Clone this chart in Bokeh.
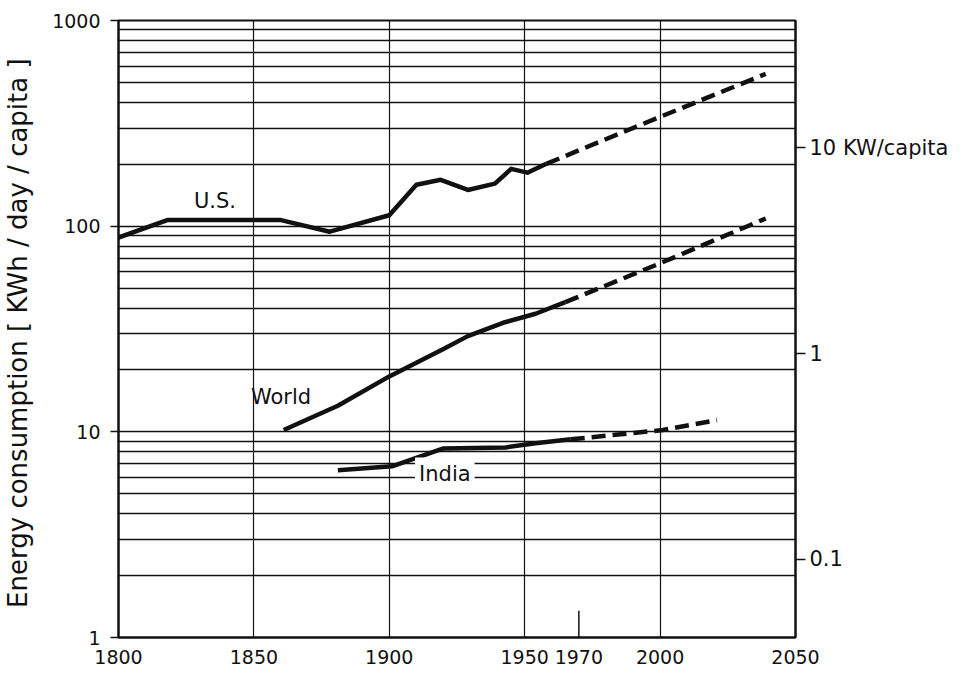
from bokeh.plotting import figure
from bokeh.models import (FixedTicker, LogAxis, Range1d, LogScale, Label)
from bokeh.embed import file_html
from bokeh.resources import INLINE

# ---- data ----
us_years = [1800, 1818, 1860, 1878, 1900, 1910, 1919, 1929, 1939, 1945, 1951, 1958]
us_vals = [88, 107, 107, 94, 113, 159, 168, 150, 161, 190, 182, 201]
us_proj_years = [1958, 2000, 2039]
us_proj_vals = [201, 340, 550]

world_years = [1861, 1881, 1900, 1920, 1929, 1942, 1954, 1965]
world_vals = [10.2, 13.4, 18.6, 25.3, 29.2, 33.9, 37.5, 42.7]
world_proj_years = [1965, 2000, 2039]
world_proj_vals = [42.7, 66, 109]

india_years = [1881, 1901, 1920, 1943, 1954, 1967]
india_vals = [6.5, 6.8, 8.3, 8.4, 8.8, 9.2]
india_proj_years = [1967, 2001, 2021]
india_proj_vals = [9.2, 10.2, 11.4]

x_ticks = [1800, 1850, 1900, 1950, 1970, 2000, 2050]
x_grid = [1850, 1900, 1950, 2000]
y_ticks = [1, 10, 100, 1000]
y_tick_labels = ["1", "10", "100", "1000"]
y_minor = [m * d for d in (1, 10, 100) for m in range(2, 10)]
kw_ticks = [0.1, 1, 10]
kw_tick_labels = ["0.1", "1", "10 KW/capita"]
kwh_per_kw_day = 24.0
marker_year = 1970

FONT = "DejaVu Sans"
INK = "#111111"

p = figure(frame_width=677, frame_height=617,
           x_range=Range1d(1800, 2050), y_range=Range1d(1, 1000),
           y_axis_type="log", output_backend="svg", toolbar_location=None,
           min_border_left=114, min_border_right=159, min_border_top=20,
           min_border_bottom=35)
p.background_fill_color = "white"
p.border_fill_color = "white"
p.outline_line_color = INK
p.outline_line_width = 2

# x axis
xa = p.xaxis[0]
xa.ticker = FixedTicker(ticks=x_ticks)
xa.major_tick_out = 0
xa.major_tick_in = 0
xa.minor_tick_out = 0
xa.axis_line_color = INK
xa.axis_line_width = 2
xa.major_label_text_font = FONT
xa.major_label_text_font_size = "19px"
xa.major_label_text_color = INK
xa.major_label_standoff = 12

# left y axis
ya = p.yaxis[0]
ya.ticker = FixedTicker(ticks=y_ticks, minor_ticks=y_minor)
ya.major_label_overrides = {t: l for t, l in zip(y_ticks, y_tick_labels)}
ya.major_tick_out = 8
ya.major_tick_in = 0
ya.minor_tick_out = 0
ya.minor_tick_in = 0
ya.major_tick_line_color = INK
ya.major_tick_line_width = 1.5
ya.axis_line_color = INK
ya.axis_line_width = 2
ya.major_label_text_font = FONT
ya.major_label_text_font_size = "19px"
ya.major_label_text_color = INK
ya.major_label_standoff = 10
ya.axis_label = "Energy consumption  [ KWh / day / capita ]"
ya.axis_label_text_font = FONT
ya.axis_label_text_font_style = "normal"
ya.axis_label_text_font_size = "26px"
ya.axis_label_text_color = INK
ya.axis_label_standoff = 16

# right axis in kW/capita
p.extra_y_ranges = {"kw": Range1d(1 / kwh_per_kw_day, 1000 / kwh_per_kw_day)}
p.extra_y_scales = {"kw": LogScale()}
ra = LogAxis(y_range_name="kw")
ra.ticker = FixedTicker(ticks=kw_ticks, minor_ticks=[])
ra.major_label_overrides = {t: l for t, l in zip(kw_ticks, kw_tick_labels)}
ra.major_tick_out = 10
ra.major_tick_in = 0
ra.minor_tick_out = 0
ra.major_tick_line_color = INK
ra.major_tick_line_width = 1.5
ra.axis_line_color = INK
ra.axis_line_width = 2
ra.major_label_text_font = FONT
ra.major_label_text_font_size = "21px"
ra.major_label_text_color = INK
ra.major_label_standoff = 4
p.add_layout(ra, "right")

# grids
p.xgrid.ticker = FixedTicker(ticks=x_grid)
p.xgrid.grid_line_color = INK
p.xgrid.grid_line_width = 1.2
p.ygrid.ticker = FixedTicker(ticks=y_ticks, minor_ticks=y_minor)
p.ygrid.grid_line_color = INK
p.ygrid.grid_line_width = 1.4
p.ygrid.minor_grid_line_color = INK
p.ygrid.minor_grid_line_width = 1.4

# 1970 marker
p.segment(x0=[marker_year], y0=[1], x1=[marker_year], y1=[1.35],
          line_color=INK, line_width=1.5)

LW = 4.5
DASH = "14 7"
p.line(us_years, us_vals, line_color=INK, line_width=LW, line_join="round")
p.line(us_proj_years, us_proj_vals, line_color=INK, line_width=LW, line_dash=DASH)
p.line(world_years, world_vals, line_color=INK, line_width=LW, line_join="round")
p.line(world_proj_years, world_proj_vals, line_color=INK, line_width=LW, line_dash=DASH)
p.line(india_years, india_vals, line_color=INK, line_width=LW, line_join="round")
p.line(india_proj_years, india_proj_vals, line_color=INK, line_width=LW, line_dash=DASH)

for txt, x, y, bg in [("U.S.", 1835.6, 132, None), ("World", 1860, 14.8, None),
                      ("India", 1920.5, 6.27, "white")]:
    lab = Label(x=x, y=y, text=txt, text_align="center", text_baseline="middle",
                text_font=FONT, text_font_size="21px", text_color=INK)
    if bg:
        lab.background_fill_color = bg
        lab.padding = 4
    p.add_layout(lab)

open("out.html", "w").write(file_html(p, INLINE))
